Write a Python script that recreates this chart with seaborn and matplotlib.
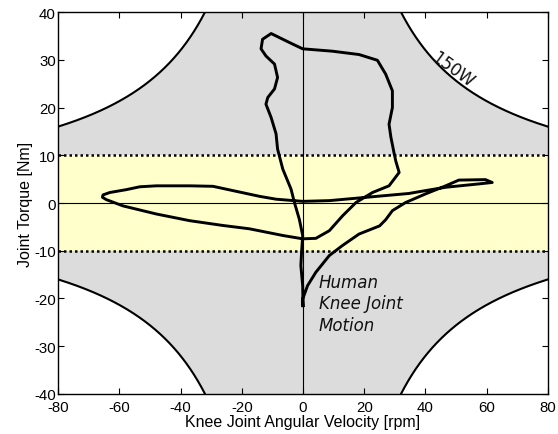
import numpy as np
import pandas as pd
import matplotlib
matplotlib.use("Agg")
import matplotlib.pyplot as plt
import seaborn as sns

# Trajectory of human knee joint motion (velocity rpm, torque Nm)
vel = [0.0, -0.1, -0.7, -0.4, -0.1, -1.2, -2.8, -3.9, -6.6, -8.3, -8.8, -10.4, -12.1, -11.5,
       -9.3, -8.3, -9.3, -12.1, -13.7, -13.2, -10.4, -6.6, -3.4, -0.1, 9.6, 18.3, 24.3, 27.0,
       29.2, 29.2, 28.1, 28.7, 29.7, 30.3, 31.4, 28.1, 22.7, 17.3, 12.9, 8.6, 4.2, -0.1, -6.6,
       -17.5, -26.2, -37.0, -47.9, -58.8, -64.2, -65.5, -65.3, -63.1, -57.7, -53.3, -47.9,
       -37.0, -29.4, -22.9, -14.2, -8.8, -0.1, 8.6, 17.3, 25.9, 34.6, 40.0, 46.6, 57.4, 61.8,
       59.6, 50.9, 46.6, 40.0, 33.5, 29.2, 27.0, 25.0, 23.8, 18.3, 12.9, 8.6, 4.2, 1.5, -0.1, 0.0]
torque = [-21.5, -17.3, -13.1, -9.6, -6.8, -3.4, 0.1, 2.9, 7.1, 11.3, 14.5, 17.9, 20.7, 22.1,
          23.9, 26.3, 29.1, 30.8, 32.3, 34.3, 35.5, 34.3, 33.3, 32.3, 31.8, 31.1, 29.9, 27.0,
          23.5, 20.0, 16.5, 13.8, 10.6, 8.8, 6.4, 3.6, 2.2, 0.1, -2.7, -5.8, -7.4, -7.5, -6.8,
          -5.4, -4.7, -3.7, -2.3, -0.6, 0.7, 1.2, 1.7, 2.2, 2.8, 3.4, 3.6,
          3.6, 3.5, 2.6, 1.4, 0.8, 0.35, 0.5, 1.0, 1.5, 2.0, 2.6, 3.3, 4.0, 4.3,
          4.9, 4.8, 3.6, 1.9, 0.1, -1.6, -3.5, -4.8, -5.1, -6.5, -8.9, -11.0, -14.5, -17.3, -20.1, -21.5]

power_const = 1280.0   # torque * rpm product of the 150 W boundary
band_limit = 10.0
x_ticks = [-80, -60, -40, -20, 0, 20, 40, 60, 80]
y_ticks = [-40, -30, -20, -10, 0, 10, 20, 30, 40]

plt.rcParams['axes.unicode_minus'] = False
fig = plt.figure(figsize=(5.58, 4.35), dpi=100)
ax = fig.add_axes([0.104, 0.092, 0.878, 0.878])

# gray feasible region bounded by hyperbolas
xs = np.linspace(-80, 80, 2001)
with np.errstate(divide='ignore'):
    lim = np.minimum(40, power_const / np.abs(xs))
ax.fill_between(xs, -lim, lim, color='#dcdcdc', lw=0, zorder=0)
ax.axhspan(-band_limit, band_limit, color='#ffffcc', lw=0, zorder=0.5)

# hyperbola curves
xr = np.linspace(power_const / 40, 80, 400)
for sx in (1, -1):
    for sy in (1, -1):
        ax.plot(sx * xr, sy * power_const / xr, color='black', lw=1.5, zorder=2)

ax.axhline(band_limit, color='black', lw=1.8, ls=(0, (1, 1.2)), zorder=2)
ax.axhline(-band_limit, color='black', lw=1.8, ls=(0, (1, 1.2)), zorder=2)
ax.axhline(0, color='black', lw=0.8, zorder=1.5)
ax.axvline(0, color='black', lw=0.8, zorder=1.5)

df = pd.DataFrame({'vel': vel, 'torque': torque})
sns.lineplot(data=df, x='vel', y='torque', sort=False, estimator=None,
             color='black', lw=2.1, ax=ax, zorder=3)

ax.text(5.2, -14.6, 'Human\nKnee Joint\nMotion', fontsize=12, style='italic',
        family='DejaVu Sans', va='top', ha='left', color='#111111', linespacing=1.25)
ax.text(48.8, 28.0, '150W', fontsize=12, rotation=-36, ha='center', va='center',
        family='DejaVu Sans', color='#111111')

ax.set_xlim(-80, 80)
ax.set_ylim(-40, 40)
ax.set_xticks(x_ticks)
ax.set_yticks(y_ticks)
ax.set_xticklabels([str(v) for v in x_ticks], family='Liberation Sans', fontsize=10.8)
ax.set_yticklabels([str(v) for v in y_ticks], family='Liberation Sans', fontsize=10.8)
ax.tick_params(direction='in', top=True, right=True, length=4.5, width=0.8)
ax.tick_params(axis='x', pad=4)
ax.tick_params(axis='y', pad=1.5)
ax.set_xlabel('Knee Joint Angular Velocity [rpm]', family='Liberation Sans', fontsize=11.5, labelpad=0.5)
ax.set_ylabel('Joint Torque [Nm]', family='Liberation Sans', fontsize=11.5, labelpad=1)
for s in ax.spines.values():
    s.set_linewidth(1.0)
    s.set_zorder(5)

fig.savefig('out.png', dpi=100)
